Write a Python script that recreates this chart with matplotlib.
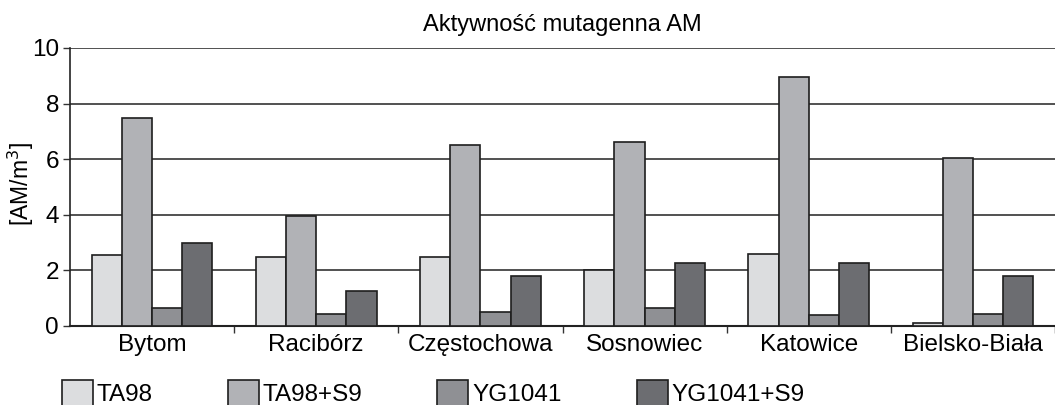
import matplotlib.pyplot as plt
import numpy as np
from matplotlib.patches import Patch

plt.rcParams['font.family'] = ['Liberation Sans', 'DejaVu Sans']

cities = ['Bytom', 'Racibórz', 'Częstochowa', 'Sosnowiec', 'Katowice', 'Bielsko-Biała']
series = ['TA98', 'TA98+S9', 'YG1041', 'YG1041+S9']
ta98 = [2.55, 2.48, 2.48, 2.0, 2.6, 0.12]
ta98_s9 = [7.48, 3.95, 6.5, 6.62, 8.95, 6.05]
yg1041 = [0.65, 0.43, 0.5, 0.65, 0.4, 0.42]
yg1041_s9 = [3.0, 1.25, 1.8, 2.25, 2.25, 1.8]
colors = ['#dcdddf', '#b1b2b6', '#8f9094', '#6c6d71']

fig = plt.figure(figsize=(10.55, 4.05), dpi=100)
ax = fig.add_axes([70 / 1055, 79 / 405, 985 / 1055, 278 / 405])

x = np.arange(len(cities))
w = 0.184
for i, (vals, c) in enumerate(zip([ta98, ta98_s9, yg1041, yg1041_s9], colors)):
    ax.bar(x + (i - 1.5) * w, vals, w, color=c, edgecolor='#1e1e1e', linewidth=1.2, zorder=3)

ax.set_xlim(-0.5, len(cities) - 0.5)
ax.set_ylim(0, 10)
ax.set_yticks([0, 2, 4, 6, 8, 10])
ax.yaxis.grid(True, color='#333333', linewidth=1.2, zorder=0)
ax.set_xticks(x)
ax.set_xticklabels(cities, fontsize=17.5)
ax.set_xticks(np.arange(len(cities)) + 0.5, minor=True)
ax.tick_params(axis='x', which='major', length=0, pad=6)
ax.tick_params(axis='x', which='minor', length=5, width=1, color='#333333')
ax.tick_params(axis='y', labelsize=17.5, length=5, width=1, color='#333333', pad=3)
for s in ['top', 'right']:
    ax.spines[s].set_visible(False)
ax.spines['left'].set_linewidth(1.2)
ax.spines['bottom'].set_linewidth(1.5)
ax.spines['left'].set_color('#222222')
ax.spines['bottom'].set_color('#222222')

ax.set_ylabel('[AM/m$^3$]', fontsize=16.5)
ax.yaxis.set_label_coords(-0.035, 0.51)
ax.set_title('Aktywność mutagenna AM', fontsize=17, pad=12)

handles = [Patch(facecolor=c, edgecolor='#1e1e1e', linewidth=1.2) for c in colors]
fig.legend(handles, series, loc='center left', bbox_to_anchor=(62 / 1055, 0.03),
           ncol=4, frameon=False, fontsize=17.5, handlelength=1.27, handleheight=1.3,
           handletextpad=0.15, columnspacing=3.1, borderpad=0, borderaxespad=0)

plt.savefig('out.png', dpi=100)
